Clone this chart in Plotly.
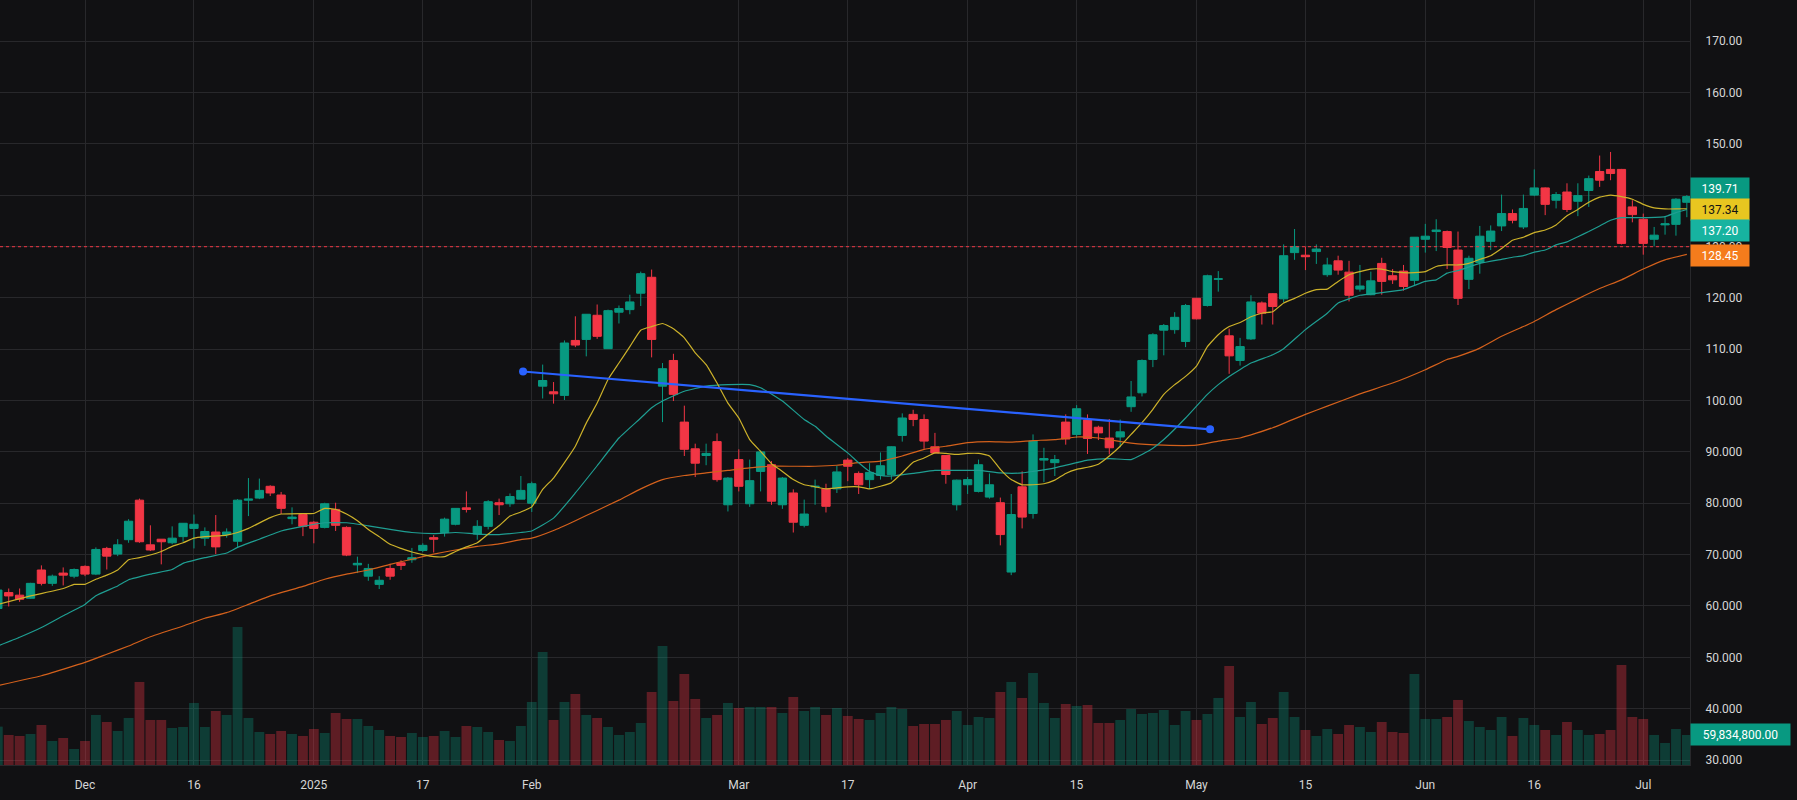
import pandas as pd
import plotly.graph_objects as go

# ---------------- data ----------------
holidays = ['2024-11-28', '2024-12-25', '2025-01-01', '2025-01-09', '2025-01-20',
            '2025-02-17', '2025-04-18', '2025-05-26', '2025-06-19', '2025-07-04']
dates = [d.strftime('%Y-%m-%d') for d in pd.bdate_range('2024-11-19', '2025-07-08')
         if d.strftime('%Y-%m-%d') not in holidays]

opens = [59.5, 62.6, 62.1, 61.5, 67.0, 64.4, 66.4, 65.8,
         67.7, 66.2, 71.2, 70.1, 72.9, 80.6, 71.9, 73.0, 72.3, 73.5,
         75.1, 73.2, 74.4, 73.9, 72.6, 80.6, 81.0, 83.3, 81.6, 77.0,
         77.8, 76.3, 75.3, 78.8, 75.3, 68.0, 65.8, 64.2, 67.3, 68.4,
         69.0, 70.8, 73.3, 74.3, 75.9, 79.1, 74.0, 75.5, 80.1, 79.9,
         80.8, 80.0, 102.8, 101.7, 101.0, 111.7, 111.9, 116.6, 110.1, 117.2,
         117.7, 120.9, 124.0, 102.8, 107.8, 95.8, 90.6, 89.3, 92.0, 79.7,
         88.5, 79.9, 86.2, 87.5, 79.7, 82.0, 75.7, 83.2, 82.8, 82.8,
         88.4, 85.8, 84.6, 85.4, 85.6, 93.2, 97.3, 96.3, 91.0, 89.3,
         79.7, 83.6, 82.3, 81.2, 80.1, 66.6, 83.2, 78.0, 88.4, 87.9,
         95.8, 93.4, 96.2, 94.8, 92.7, 92.9, 98.8, 101.5, 108.0, 113.7,
         113.8, 111.5, 119.9, 118.5, 123.6, 112.6, 107.8, 112.0, 119.0, 120.8,
         119.8, 128.8, 128.3, 129.0, 124.5, 127.2, 125.0, 121.7, 120.6, 126.7,
         124.3, 125.2, 123.4, 131.4, 132.9, 132.9, 129.3, 123.6, 126.9, 131.0,
         134.0, 136.4, 133.8, 140.0, 141.4, 139.0, 140.6, 138.8, 140.9, 144.6,
         145.0, 145.0, 137.7, 135.3, 131.4, 134.2, 134.3, 138.6]
highs = [63.3, 63.4, 63.4, 64.5, 67.9, 66.1, 67.5, 67.3,
         67.9, 71.4, 71.5, 73.0, 76.9, 80.9, 75.7, 73.0, 75.5, 76.1,
         77.8, 75.3, 77.7, 75.1, 80.8, 84.9, 84.8, 83.5, 82.2, 79.2,
         78.0, 76.5, 80.1, 80.1, 75.5, 69.6, 68.2, 65.8, 68.2, 68.9,
         71.3, 72.2, 73.8, 77.2, 79.0, 82.3, 76.7, 80.6, 80.9, 81.9,
         85.3, 84.2, 107.0, 103.6, 111.7, 116.4, 116.8, 118.7, 117.7, 118.5,
         120.6, 125.1, 125.5, 107.3, 109.1, 99.0, 91.6, 91.6, 93.6, 85.1,
         90.5, 88.5, 90.3, 88.2, 85.1, 82.7, 80.7, 84.6, 83.8, 87.3,
         88.8, 86.2, 87.8, 89.9, 91.1, 97.5, 98.2, 97.3, 93.7, 89.3,
         84.6, 85.1, 88.5, 85.8, 81.1, 81.8, 86.2, 93.4, 90.8, 89.4,
         97.3, 99.1, 97.3, 95.1, 96.4, 96.3, 103.8, 108.0, 113.1, 114.9,
         117.2, 118.8, 120.0, 124.5, 125.2, 114.0, 112.2, 120.5, 119.3, 120.9,
         130.4, 133.4, 130.0, 130.4, 127.8, 128.2, 127.2, 126.4, 125.1, 127.8,
         125.6, 126.4, 131.8, 134.4, 135.3, 133.1, 132.9, 128.2, 134.0, 134.1,
         140.1, 137.2, 140.1, 145.0, 141.5, 140.6, 142.3, 142.3, 143.8, 147.7,
         148.4, 145.1, 139.0, 136.4, 133.8, 135.9, 139.4, 140.0]
lows = [59.3, 59.9, 60.8, 61.4, 64.0, 63.9, 64.0, 65.4,
        65.8, 66.0, 67.1, 69.7, 72.3, 72.3, 70.7, 68.1, 72.0, 72.5,
        71.2, 71.7, 70.1, 73.3, 71.5, 77.5, 80.8, 81.4, 77.9, 75.9,
        73.6, 72.2, 75.1, 74.6, 69.7, 66.4, 64.9, 63.3, 65.1, 67.0,
        68.4, 70.5, 70.4, 73.5, 75.7, 78.2, 72.9, 74.9, 77.7, 79.3,
        80.8, 78.3, 100.4, 99.4, 100.1, 110.4, 108.6, 112.0, 110.1, 115.0,
        116.8, 118.4, 108.4, 95.8, 99.9, 89.2, 85.1, 87.4, 84.2, 78.4,
        82.3, 79.3, 82.3, 79.7, 78.9, 74.3, 75.3, 79.7, 78.2, 82.0,
        84.3, 81.8, 82.8, 84.6, 84.6, 92.0, 95.0, 90.6, 89.7, 83.8,
        78.6, 81.8, 82.1, 80.9, 71.8, 66.0, 75.1, 77.0, 84.1, 85.3,
        91.4, 92.7, 89.6, 92.3, 89.5, 90.9, 97.8, 100.8, 106.5, 108.8,
        113.0, 110.4, 115.8, 118.3, 121.2, 105.2, 106.8, 111.8, 114.8, 114.8,
        119.1, 127.4, 125.4, 126.6, 124.1, 124.5, 119.3, 121.2, 120.5, 120.6,
        122.7, 121.4, 122.5, 128.8, 129.1, 125.6, 118.6, 121.7, 124.7, 129.3,
        133.0, 134.5, 133.4, 139.8, 136.1, 137.4, 136.7, 135.9, 137.7, 141.6,
        142.9, 130.4, 134.7, 128.4, 130.1, 132.3, 132.1, 135.7]
closes = [63.1, 61.95, 61.3, 64.4, 64.4, 65.8, 66.0, 67.1,
          66.2, 71.0, 69.7, 71.9, 76.5, 72.5, 70.9, 72.5, 73.2, 76.1,
          75.9, 74.5, 71.5, 74.4, 80.6, 80.8, 82.5, 82.0, 79.0, 77.3,
          75.5, 75.1, 79.9, 75.7, 69.9, 68.3, 67.3, 65.0, 65.8, 67.9,
          69.4, 71.8, 73.0, 76.9, 79.0, 78.8, 75.5, 80.3, 79.7, 81.3,
          82.5, 83.8, 103.9, 101.3, 111.2, 110.8, 116.8, 112.5, 117.5, 117.9,
          119.2, 124.7, 111.9, 106.2, 101.2, 90.5, 87.8, 89.7, 84.6, 84.9,
          83.3, 84.4, 90.0, 80.4, 84.9, 76.3, 77.9, 83.3, 79.4, 86.1,
          87.2, 83.6, 86.0, 87.3, 91.0, 96.6, 96.3, 92.1, 89.8, 85.6,
          84.5, 84.6, 87.5, 83.6, 73.9, 77.8, 77.3, 92.1, 88.7, 88.5,
          92.5, 98.4, 92.6, 93.7, 90.8, 93.9, 100.7, 107.8, 112.8, 114.6,
          116.2, 118.5, 115.9, 124.3, 123.7, 108.7, 110.5, 119.2, 117.0, 118.3,
          128.2, 130.0, 128.0, 129.5, 126.4, 125.4, 120.5, 122.3, 123.3, 123.2,
          123.5, 122.2, 131.8, 132.0, 133.2, 129.8, 119.9, 127.7, 132.0, 133.0,
          136.4, 135.1, 137.4, 141.4, 138.2, 140.1, 137.2, 139.9, 143.2, 142.9,
          144.2, 130.6, 136.2, 130.6, 132.2, 134.4, 139.2, 139.71]
volume_m = [76.5, 59.9, 57.9, 61.8, 79.8, 47.9, 53.9, 31.9,
            47.9, 99.8, 85.8, 67.8, 93.8, 165.6, 89.8, 89.8, 73.8, 75.8,
            123.7, 75.8, 107.7, 99.8, 275.3, 93.8, 65.8, 61.8, 67.8, 61.8,
            57.9, 71.8, 63.8, 103.7, 91.8, 91.8, 77.8, 69.8, 57.9, 55.9,
            63.8, 55.9, 57.9, 67.8, 55.9, 77.8, 75.8, 65.8, 49.9, 47.9,
            77.8, 125.7, 225.4, 89.8, 125.7, 141.6, 99.8, 93.8, 75.8, 59.9,
            65.8, 83.8, 145.6, 237.4, 127.7, 181.5, 131.7, 93.8, 99.8, 123.7,
            113.7, 115.7, 115.7, 115.7, 103.7, 135.7, 107.7, 115.7, 99.8, 113.7,
            97.8, 91.8, 89.8, 103.7, 115.7, 111.7, 77.8, 81.8, 81.8, 89.8,
            107.7, 79.8, 95.8, 93.8, 145.6, 165.6, 133.7, 183.5, 123.7, 93.8,
            121.7, 117.7, 119.7, 83.8, 83.8, 89.8, 111.7, 101.7, 103.7, 109.7,
            79.8, 107.7, 89.8, 101.7, 133.7, 197.5, 95.8, 125.7, 81.8, 93.8,
            145.6, 95.8, 69.8, 57.9, 71.8, 61.8, 79.8, 75.8, 65.8, 85.8,
            65.8, 63.8, 181.5, 91.8, 91.8, 95.8, 129.7, 87.8, 75.8, 69.8,
            95.8, 57.9, 93.8, 79.8, 69.8, 59.9, 85.8, 69.8, 59.9, 61.8,
            69.8, 199.5, 95.8, 91.8, 59.9, 43.9, 71.8, 59.8348]

N = None
ma_yellow = [60.3, N, N, 61.95, N, N, 63.4, 64.2,
             64.2, 65.2, 66.0, 67.0, 69.0, 69.4, N, 70.6, 71.6, 72.3,
             73.2, 73.5, N, 73.8, 74.3, 75.1, N, 77.2, 77.9, N,
             78.0, 78.0, 79.0, 78.8, 77.9, 76.6, 74.9, 73.5, 72.0, 71.2,
             70.5, 70.0, 69.6, 69.6, 70.6, 71.5, 72.3, 74.0, 75.6, 77.5,
             78.3, 79.3, 82.7, 84.9, 87.9, 91.1, 95.6, 99.5, 104.1, 107.3,
             110.5, 113.7, 114.4, 115.0, 114.0, 112.2, 109.3, 107.0, 103.4, 99.5,
             96.6, 92.4, 90.1, 87.7, 86.2, 84.6, 83.6, 83.2, 82.8, 83.0,
             83.2, 83.2, 82.8, 83.3, 84.0, 85.9, 88.0, 88.8, 89.8, 89.7,
             89.5, 89.7, 89.7, 89.2, 86.6, 84.6, 83.6, 83.6, 83.8, 84.5,
             85.8, 86.6, 87.0, 87.6, 89.2, 91.1, 93.4, 95.7, 98.3, 101.2,
             103.1, 104.7, 106.7, 110.5, 112.8, 114.4, 115.2, 116.3, 117.0, 117.3,
             119.0, 119.9, 120.9, 121.6, 121.7, 123.2, 124.5, 125.1, 125.6, 125.6,
             125.1, 124.9, 124.9, 125.1, 126.1, 126.4, 126.4, 126.7, 127.5, 128.2,
             129.6, 131.2, 131.8, 132.7, 133.2, 134.2, 136.0, 137.2, 138.6, 139.6,
             140.0, 139.7, 139.2, 138.2, 137.5, 137.3, 137.3, 137.34]
ma_teal = [52.2, N, 53.9, N, 55.8, N, 58.1, N,
           60.3, 62.0, N, 63.9, 65.1, N, 66.2, N, 67.1, 68.3,
           N, 69.4, N, 70.3, 71.4, N, 73.0, N, 74.6, N,
           75.5, N, 76.2, N, 76.2, N, 75.6, N, 74.9, N,
           74.3, N, 74.1, N, 74.3, N, 74.0, N, 73.9, N,
           74.3, 74.6, N, 77.1, N, 82.0, N, 87.3, N, 92.7,
           N, 96.6, 98.6, 99.9, N, 101.8, N, 102.8, N, 103.1,
           N, 103.1, 102.5, N, 99.9, N, 96.3, 95.0, 93.1, N,
           89.8, 87.9, 86.2, 85.4, 85.3, N, 85.8, N, 86.4, N,
           86.4, N, 86.4, N, 85.9, N, 85.9, 86.2, N, 86.9,
           N, 87.9, 88.4, N, 88.7, N, 88.5, 89.5, 90.7, 92.4,
           N, 96.6, N, 101.2, 103.1, 104.7, N, 107.3, N, 108.9,
           110.1, N, 113.8, N, 117.0, 119.0, N, 120.5, N, 121.0,
           N, 121.6, N, 123.2, 123.5, 124.8, 125.3, N, 126.7, N,
           127.5, 127.9, 128.2, 128.9, 129.3, 130.3, 130.9, 131.9, 132.9, 134.0,
           135.1, 135.6, N, 135.6, N, 135.8, 136.6, 137.2]
ma_orange = [44.5, N, N, N, 46.4, N, N, N,
             49.0, N, 50.6, N, 52.2, N, 54.0, N, N, 56.1,
             N, 57.6, N, 58.7, N, 60.3, N, 61.95, N, N,
             63.8, N, 65.2, N, 66.2, N, 67.0, N, 68.1, N,
             69.1, N, 70.1, N, 70.9, N, 71.6, N, 72.1, N,
             72.9, 73.2, N, 74.7, N, 76.6, N, 78.6, N, 80.6,
             N, 82.8, N, 84.6, N, 85.4, N, 85.9, N, 86.4,
             N, 86.9, N, 87.2, N, 87.2, N, 87.2, N, 87.4,
             N, 87.9, N, 88.2, N, 89.2, N, 90.5, N, 91.1,
             N, 91.8, N, 92.0, N, 91.9, N, 92.2, N, 92.4,
             N, 92.9, N, 92.7, N, N, 91.7, N, N, 91.3,
             N, N, 91.3, N, 92.1, N, 92.7, N, N, 94.7,
             N, N, 97.3, N, 98.9, N, N, 101.3, N, N,
             103.4, N, N, 106.0, N, 108.0, 108.6, N, 110.2, N,
             112.5, N, 114.4, 115.4, N, 117.7, N, 119.8, N, 121.8,
             N, 123.5, N, 125.6, N, 127.4, N, 128.45]

# drawn trend line: (bar position, price)
trend_pos = [48.2, 111.25]
trend_price = [105.65, 94.4]
ref_line_price = 129.95

tick_dates = ['2024-12-02', '2024-12-16', '2025-01-02', '2025-01-17', '2025-02-03',
              '2025-03-03', '2025-03-17', '2025-04-01', '2025-04-15', '2025-05-01',
              '2025-05-15', '2025-06-02', '2025-06-16', '2025-07-01']
tick_text = ['Dec', '16', '2025', '17', 'Feb', 'Mar', '17', 'Apr', '15', 'May',
             '15', 'Jun', '16', 'Jul']
price_ticks = [30, 40, 50, 60, 70, 80, 90, 100, 110, 120, 130, 140, 150, 160, 170]
# 140.00 sits fully behind the last-price label in the reference
price_tick_text = ['30.000', '40.000', '50.000', '60.000', '70.000', '80.000', '90.000',
                   '100.00', '110.00', '120.00', '130.00', '', '150.00', '160.00', '170.00']

# ---------------- styling ----------------
BG = '#111113'
GRID = '#28282b'
UP = '#089981'
DOWN = '#f23645'
FONT = 'Roboto, Arial, sans-serif'
TXT = '#d6d6d6'

pos = list(range(len(dates)))
volume = [v * 1e6 for v in volume_m]
vol_colors = ['rgba(8,153,129,0.32)' if c >= o else 'rgba(242,54,69,0.34)'
              for o, c in zip(opens, closes)]

fig = go.Figure()

fig.add_trace(go.Bar(x=pos, y=volume, marker=dict(color=vol_colors, line=dict(width=0)),
                     width=0.9, yaxis='y', hovertext=dates, showlegend=False))

for vals, col in [(ma_orange, '#d4611c'), (ma_teal, '#1f9e92'), (ma_yellow, '#cdb22a')]:
    fig.add_trace(go.Scatter(x=pos, y=vals, mode='lines', connectgaps=True,
                             line=dict(color=col, width=1.2, shape='spline', smoothing=0.4),
                             yaxis='y2', hoverinfo='skip', showlegend=False))

fig.add_trace(go.Candlestick(
    x=pos, open=opens, high=highs, low=lows, close=closes, yaxis='y2',
    increasing=dict(line=dict(color=UP, width=1), fillcolor=UP),
    decreasing=dict(line=dict(color=DOWN, width=1), fillcolor=DOWN),
    whiskerwidth=0, hovertext=dates, showlegend=False))

fig.add_trace(go.Scatter(x=trend_pos, y=trend_price, mode='lines+markers', yaxis='y2',
                         line=dict(color='#2962ff', width=2.2),
                         marker=dict(color='#2962ff', size=8), showlegend=False,
                         hoverinfo='skip'))

tick_pos = [dates.index(d) for d in tick_dates]
vol_max = 765 * 1.994e6

fig.update_layout(
    width=1797, height=800,
    margin=dict(l=0, r=107, t=0, b=35),
    paper_bgcolor=BG, plot_bgcolor=BG,
    font=dict(family=FONT, size=12, color=TXT),
    boxgap=0.24, boxgroupgap=0,
    xaxis=dict(range=[0.2, 155.29], tickvals=tick_pos, ticktext=tick_text,
               showgrid=True, gridcolor=GRID, gridwidth=1, zeroline=False,
               showline=True, linecolor=GRID, ticks='', ticklabelstandoff=9,
               rangeslider=dict(visible=False), tickfont=dict(size=12, color=TXT)),
    yaxis=dict(range=[0, vol_max], showgrid=False, showticklabels=False,
               zeroline=False, fixedrange=True),
    yaxis2=dict(overlaying='y', side='right', range=[29.03, 177.99],
                tickvals=price_ticks, ticktext=price_tick_text,
                showgrid=True, gridcolor=GRID, gridwidth=1, zeroline=False,
                showline=True, linecolor=GRID, ticks='', ticklabelstandoff=12,
                tickfont=dict(size=12, color=TXT)),
    shapes=[dict(type='line', xref='paper', x0=0, x1=1, yref='y2',
                 y0=ref_line_price, y1=ref_line_price,
                 line=dict(color=DOWN, width=1, dash='dot'), layer='above')],
    hovermode=False,
)

labels = [
    (closes[-1], '#089981', 'white', 7.7),
    (ma_yellow[-1], '#e8c620', '#131313', -1.0),
    (ma_teal[-1], '#17b3a0', 'white', -21.0),
    (ma_orange[-1], '#f57c1c', 'white', -1.0),
]
anns = []
for val, bg, fc, ys in labels:
    anns.append(dict(x=1, xref='paper', xanchor='left', y=val, yref='y2', yanchor='middle',
                     yshift=ys, text=f'{val:.2f}', showarrow=False, bgcolor=bg,
                     font=dict(family=FONT, size=12, color=fc), width=52, height=15,
                     borderpad=3, align='center'))
anns.append(dict(x=1, xref='paper', xanchor='left', y=volume[-1], yref='y', yanchor='middle',
                 text=f'{volume[-1]:,.2f}', showarrow=False, bgcolor='#089981',
                 font=dict(family=FONT, size=12, color='white'), width=93, height=15,
                 borderpad=3, align='center'))
fig.update_layout(annotations=anns)

fig.write_html('out.html')
